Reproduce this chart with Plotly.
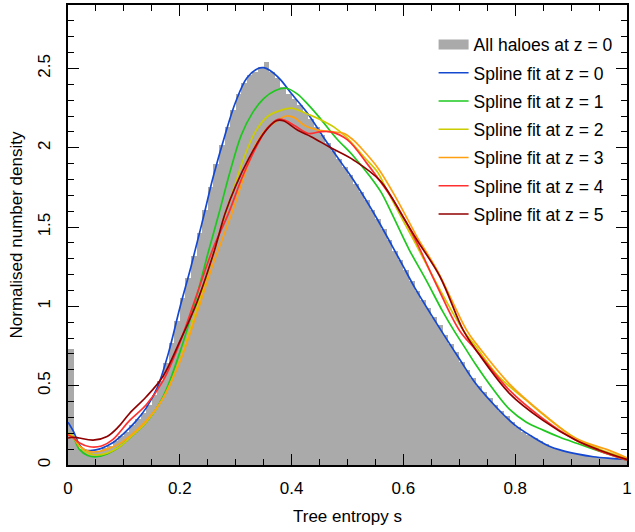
import numpy as np
import plotly.graph_objects as go

# ---------------- data ----------------
bin_width = 0.01
hist_density = [
    0.73, 0.15, 0.10, 0.08, 0.08, 0.09, 0.11, 0.12, 0.15, 0.18,
    0.21, 0.25, 0.29, 0.33, 0.38, 0.44, 0.53, 0.64, 0.77, 0.91,
    1.05, 1.18, 1.32, 1.46, 1.61, 1.75, 1.90, 2.02, 2.13, 2.24,
    2.34, 2.41, 2.46, 2.48, 2.51, 2.54, 2.48, 2.44, 2.38, 2.34,
    2.31, 2.27, 2.22, 2.18, 2.13, 2.08, 2.03, 1.98, 1.93, 1.88,
    1.83, 1.77, 1.72, 1.67, 1.61, 1.55, 1.49, 1.42, 1.35, 1.29,
    1.23, 1.16, 1.10, 1.04, 0.99, 0.93, 0.88, 0.82, 0.76, 0.71,
    0.65, 0.60, 0.55, 0.50, 0.46, 0.42, 0.38, 0.34, 0.31, 0.27,
    0.24, 0.21, 0.19, 0.17, 0.15, 0.13, 0.115, 0.10, 0.09, 0.08,
    0.075, 0.068, 0.062, 0.056, 0.052, 0.048, 0.045, 0.042, 0.040, 0.037,
]
bin_centers = np.arange(len(hist_density)) * bin_width + bin_width / 2

z0_s = [0, 0.01, 0.02, 0.03, 0.04, 0.05, 0.06, 0.08, 0.10, 0.12, 0.14, 0.16, 0.18, 0.20,
        0.22, 0.24, 0.26, 0.28, 0.30, 0.32, 0.34, 0.35, 0.36, 0.38, 0.40, 0.43, 0.46,
        0.49, 0.51, 0.55, 0.58, 0.60, 0.62, 0.66, 0.70, 0.73, 0.77, 0.80, 0.83, 0.86,
        0.88, 0.91, 0.94, 0.97, 1.0]
z0_d = [0.27, 0.21, 0.13, 0.095, 0.09, 0.095, 0.105, 0.14, 0.20, 0.27, 0.36, 0.49, 0.71, 0.99,
        1.25, 1.53, 1.82, 2.07, 2.29, 2.44, 2.50, 2.505, 2.49, 2.43, 2.34, 2.21, 2.05,
        1.90, 1.80, 1.57, 1.38, 1.25, 1.12, 0.89, 0.67, 0.51, 0.35, 0.25, 0.18, 0.12,
        0.095, 0.07, 0.052, 0.042, 0.035]

z1_s = [0, 0.01, 0.02, 0.035, 0.05, 0.07, 0.09, 0.11, 0.14, 0.17, 0.20, 0.23, 0.25, 0.27,
        0.29, 0.31, 0.33, 0.35, 0.37, 0.39, 0.41, 0.43, 0.45, 0.48, 0.51, 0.54, 0.56,
        0.58, 0.61, 0.64, 0.67, 0.69, 0.71, 0.73, 0.76, 0.79, 0.82, 0.85, 0.88, 0.91,
        0.94, 0.97, 1.0]
z1_d = [0.20, 0.17, 0.10, 0.06, 0.052, 0.07, 0.11, 0.17, 0.27, 0.43, 0.71, 1.06, 1.33, 1.585,
        1.85, 2.08, 2.22, 2.31, 2.36, 2.375, 2.34, 2.27, 2.19, 2.06, 1.95, 1.82, 1.72,
        1.58, 1.36, 1.17, 0.97, 0.85, 0.74, 0.63, 0.48, 0.35, 0.27, 0.22, 0.175, 0.137,
        0.10, 0.065, 0.03]

z2_s = [0, 0.01, 0.02, 0.035, 0.05, 0.07, 0.09, 0.11, 0.14, 0.17, 0.20, 0.23, 0.26, 0.28,
        0.30, 0.31, 0.335, 0.358, 0.38, 0.40, 0.43, 0.45, 0.476, 0.50, 0.53, 0.553,
        0.571, 0.595, 0.621, 0.66, 0.707, 0.73, 0.77, 0.819, 0.86, 0.908, 0.95, 1.0]
z2_d = [0.20, 0.18, 0.12, 0.075, 0.063, 0.075, 0.11, 0.17, 0.27, 0.42, 0.66, 0.98, 1.33, 1.57,
        1.78, 1.89, 2.10, 2.20, 2.235, 2.25, 2.21, 2.18, 2.13, 2.06, 1.94, 1.85,
        1.73, 1.57, 1.40, 1.14, 0.85, 0.745, 0.56, 0.41, 0.29, 0.168, 0.10, 0.04]

z3_s = [0, 0.01, 0.02, 0.039, 0.055, 0.07, 0.09, 0.11, 0.14, 0.17, 0.20, 0.23, 0.26, 0.293,
        0.315, 0.335, 0.355, 0.37, 0.39, 0.405, 0.423, 0.45, 0.475, 0.494, 0.51, 0.524,
        0.555, 0.581, 0.606, 0.624, 0.66, 0.713, 0.73, 0.79, 0.849, 0.908, 0.967, 1.0]
z3_d = [0.19, 0.17, 0.12, 0.084, 0.085, 0.10, 0.13, 0.18, 0.28, 0.42, 0.65, 0.95, 1.27, 1.585,
        1.82, 2.015, 2.12, 2.16, 2.20, 2.19, 2.14, 2.11, 2.10, 2.09, 2.05, 2.00,
        1.87, 1.72, 1.56, 1.44, 1.23, 0.85, 0.766, 0.51, 0.325, 0.168, 0.094, 0.045]

z4_s = [0, 0.01, 0.02, 0.039, 0.06, 0.08, 0.11, 0.14, 0.17, 0.20, 0.23, 0.26, 0.287, 0.31,
        0.329, 0.345, 0.358, 0.376, 0.39, 0.405, 0.43, 0.45, 0.47, 0.50, 0.535, 0.553,
        0.589, 0.624, 0.66, 0.70, 0.73, 0.79, 0.849, 0.908, 0.95, 1.0]
z4_d = [0.19, 0.17, 0.14, 0.115, 0.12, 0.16, 0.28, 0.38, 0.53, 0.77, 1.07, 1.37, 1.585, 1.80,
        1.95, 2.06, 2.13, 2.18, 2.17, 2.14, 2.09, 2.10, 2.10, 2.05, 1.90, 1.815,
        1.63, 1.40, 1.13, 0.85, 0.724, 0.47, 0.294, 0.157, 0.09, 0.03]

z5_s = [0, 0.01, 0.02, 0.045, 0.07, 0.09, 0.11, 0.14, 0.17, 0.20, 0.23, 0.26, 0.281, 0.30,
        0.323, 0.352, 0.373, 0.385, 0.411, 0.435, 0.47, 0.512, 0.559, 0.60, 0.624,
        0.665, 0.707, 0.73, 0.79, 0.849, 0.908, 0.95, 1.0]
z5_d = [0.17, 0.175, 0.17, 0.157, 0.18, 0.24, 0.325, 0.43, 0.56, 0.78, 1.02, 1.33, 1.585, 1.76,
        1.93, 2.10, 2.17, 2.17, 2.11, 2.07, 2.00, 1.92, 1.79, 1.56, 1.42,
        1.19, 0.85, 0.724, 0.45, 0.283, 0.157, 0.095, 0.035]

spline_series = [
    ("Spline fit at z = 0", z0_s, z0_d, "#1448d0"),
    ("Spline fit at z = 1", z1_s, z1_d, "#1ec81e"),
    ("Spline fit at z = 2", z2_s, z2_d, "#cccc00"),
    ("Spline fit at z = 3", z3_s, z3_d, "#ffa010"),
    ("Spline fit at z = 4", z4_s, z4_d, "#ff3030"),
    ("Spline fit at z = 5", z5_s, z5_d, "#900000"),
]
hist_label = "All haloes at z = 0"
x_title = "Tree entropy s"
y_title = "Normalised number density"

# ---------------- figure ----------------
FONT = "Liberation Sans, Arial, Helvetica, sans-serif"
fig = go.Figure()
fig.add_trace(go.Bar(x=bin_centers, y=hist_density, width=bin_width,
                     marker=dict(color="#aaaaaa", line=dict(width=0)),
                     showlegend=False, hoverinfo="skip"))
fig.add_trace(go.Scatter(x=[None], y=[None], mode="lines", name=hist_label,
                         line=dict(color="#aaaaaa", width=14), legendgroup="h"))
for i, (name, s, d, col) in enumerate(spline_series):
    fig.add_trace(go.Scatter(x=s, y=d, mode="lines", name=name, legendgroup=f"g{i}",
                             line=dict(color=col, width=1.7, shape="spline", smoothing=1)))

axis_common = dict(showline=True, linecolor="black", linewidth=1.6, mirror="ticks",
                   ticks="inside", ticklen=11, tickwidth=1.3, tickcolor="black",
                   showgrid=False, zeroline=False,
                   tickfont=dict(family=FONT, size=17, color="black"))
fig.update_xaxes(range=[0, 1], tick0=0, dtick=0.2, ticklabelstandoff=7,
                 minor=dict(dtick=0.05, ticks="inside", ticklen=6, tickwidth=1.3, tickcolor="black"),
                 title=dict(text=x_title, font=dict(family=FONT, size=17, color="black"), standoff=13),
                 **axis_common)
fig.update_yaxes(range=[0, 2.9], tick0=0, dtick=0.5, tickangle=-90, ticklabelstandoff=9,
                 minor=dict(dtick=0.1, ticks="inside", ticklen=6, tickwidth=1.3, tickcolor="black"),
                 title=dict(text=y_title, font=dict(family=FONT, size=17, color="black"), standoff=8),
                 **axis_common)

fig.update_layout(
    width=635, height=532,
    margin=dict(l=68, r=3, t=5, b=67),
    plot_bgcolor="white", paper_bgcolor="white",
    bargap=0,
    font=dict(family=FONT, size=17, color="black"),
    legend=dict(x=0.654, y=0.953, xanchor="left", yanchor="top",
                bgcolor="rgba(0,0,0,0)", tracegroupgap=2.5,
                font=dict(family=FONT, size=17.5, color="black")),
)
fig.write_html("out.html")
